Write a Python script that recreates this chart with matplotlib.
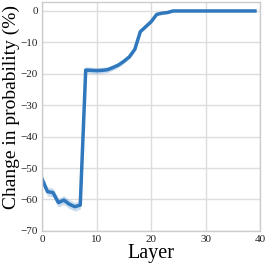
import matplotlib
matplotlib.use("Agg")
import matplotlib.pyplot as plt
import numpy as np

layers = list(range(40))
change = [-53.5, -57.5, -57.8, -61.0, -60.2, -61.5, -62.3, -61.8,
          -18.8, -18.9, -19.0, -18.9, -18.7, -18.0, -17.2, -16.0, -14.6,
          -12.2, -6.6, -5.0, -3.4, -1.1, -0.7, -0.5, 0.0,
          0.0, 0.0, 0.0, 0.0, 0.0, 0.0, 0.0, 0.0, 0.0, 0.0, 0.0, 0.0, 0.0, 0.0, 0.0]
ci = [1.4, 1.4, 1.4, 1.4, 1.4, 1.4, 1.4, 1.3,
      1.0, 1.0, 1.0, 1.0, 0.9, 0.9, 0.8, 0.7, 0.6,
      0.5, 0.4, 0.3, 0.3, 0.2, 0.1, 0.1, 0.05,
      0.05, 0.05, 0.05, 0.05, 0.05, 0.05, 0.05, 0.05, 0.05, 0.05, 0.05, 0.05, 0.05, 0.05, 0.05]

xticks = [0, 10, 20, 30, 40]
yticks = [0, -10, -20, -30, -40, -50, -60, -70]

plt.rcParams['font.family'] = ['Liberation Serif', 'DejaVu Serif']

fig = plt.figure(figsize=(2.66, 2.66), dpi=100)
ax = fig.add_axes([0.158, 0.132, 0.821, 0.861])

color = '#2f78bd'
x = np.array(layers)
y = np.array(change)
c = np.array(ci)
ax.fill_between(x, y - c, y + c, color=color, alpha=0.25, linewidth=0)
ax.plot(x, y, color=color, linewidth=2.5)

ax.set_xlim(0, 40)
ax.set_ylim(-70, 2.9)
ax.set_xticks(xticks)
ax.set_yticks(yticks)
ax.tick_params(axis='both', labelsize=8, length=0, pad=3, colors='#222222')
ax.grid(True, color='#dddddd', linewidth=1.0)
ax.set_axisbelow(True)
for s in ax.spines.values():
    s.set_color('#cccccc')
    s.set_linewidth(1.0)

ax.set_xlabel('Layer', fontsize=14.5, labelpad=0)
ax.set_ylabel('Change in probability (%)', fontsize=14, labelpad=0)
ax.yaxis.set_label_coords(-0.1, 0.54)

fig.savefig('out.png', dpi=100)
